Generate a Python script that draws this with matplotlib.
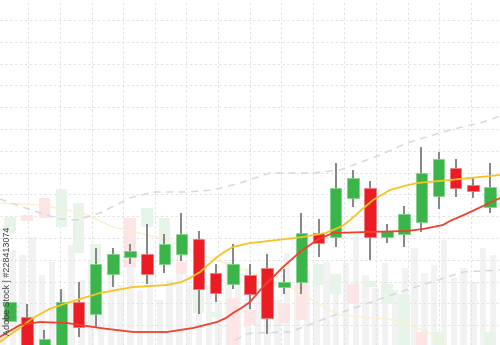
import numpy as np
import matplotlib
matplotlib.use("Agg")
import matplotlib.pyplot as plt

# main candles (price units, bottom of picture = 0)
opens  = [24, 28, -15, -15, 43, 31, 71, 88, 91, 81, 91, 106, 72, 61, 70, 77, 58, 63, 112, 108,
          147, 157, 108, 111, 123, 149, 177, 160, 138]
closes = [43, -15, 6, 43, 18, 81, 91, 94, 71, 101, 111, 56, 52, 81, 51, 27, 63, 112, 102, 157,
          167, 108, 114, 131, 172, 186, 157, 154, 158]
highs  = [43, 41, 15, 56, 63, 97, 97, 101, 121, 111, 132, 114, 81, 101, 81, 91, 76, 132, 126, 182,
          175, 164, 121, 139, 198, 193, 186, 167, 182]
lows   = [24, -20, -20, -20, 8, 18, 58, 81, 61, 72, 84, 31, 43, 56, 36, 11, 51, 51, 88, 98,
          138, 85, 102, 98, 113, 136, 148, 147, 132]

# moving averages (x in candle index units)
ma_yellow_x = [-0.6, 0.4, 1.34, 2.3, 3.33, 5.25, 7.18, 9.16, 10.0, 10.5, 11.09, 11.49, 12.08, 12.5,
               13.01, 14.0, 14.59, 17.09, 18.4, 18.84, 19.4, 19.84, 20.5, 21.18, 22.17, 23.0,
               23.75, 25.67, 28.6]
ma_yellow_y = [3, 15, 27, 36, 42, 52, 58, 60, 63, 67, 73, 79, 88, 93,
               98, 102, 103, 108, 112, 115, 119, 125, 135, 145, 155, 159,
               162, 165, 170]
ma_red_x = [-0.6, 0.58, 1.75, 3.33, 5.25, 7.18, 9.16, 10.68, 12.08, 12.6, 13.01, 13.5, 14.0,
            14.76, 15.35, 15.93, 16.92, 17.91, 18.84, 20.83, 23.16, 24.1, 25.26, 25.67, 26.6,
            27.6, 28.6]
ma_red_y = [8, 20, 23, 22, 17, 13, 13, 17, 23, 27, 32, 37, 43,
            58, 68, 78, 93, 105, 112, 113, 114, 116, 120, 124, 131,
            139, 147]

# faded background candles
ghost_idx    = [0, 1, 2, 3, 4, 5, 7, 8, 9, 10, 11, 12, 13, 14, 16, 17, 18, 19, 20, 21, 22, 23, 24, 25, 28]
ghost_top    = [128, 130, 147, 156, 142, 101, 127, 137, 127, 83, 57, 33, 47, 35, 42, 62, 81, 71, 61, 64,
                61, 51, 13, 13, 13]
ghost_bottom = [112, 124, 127, 118, 92, 82, 78, 118, 82, 71, 32, 28, 0, 20, 22, 25, 60, 51, 41, 58,
                41, 0, 0, 0, 0]
ghost_up     = [1, 0, 0, 1, 1, 1, 0, 1, 1, 0, 1, 1, 0, 0, 0, 0, 1, 1, 0, 1, 1, 1, 0, 1, 1]

# faded volume bars
volume = [75, 95, 90, 108, 70, 83, 55, 100, 65, 85, 45, 75, 60, 90, 55, 80, 45, 65, 95, 70,
          75, 60, 45, 83, 65, 77, 50, 70, 45, 92, 60, 75, 70, 83, 55, 82, 112, 70, 57, 82,
          55, 77, 97, 72, 80, 105, 67, 77, 63, 97, 90]

# faded trend lines
ghost_yellow_x = [-0.6, 1.75, 4.26, 6.01, 8.75, 11.67, 14.0, 15.93, 16.74, 17.91, 19.25, 20.6, 22.58, 24.5, 25.38]
ghost_yellow_y = [142, 140, 132, 118, 107, 87, 73, 60, 55, 42, 30, 28, 25, 12, 0]
band_up_x = [-0.6, 1.58, 2.92, 3.91, 5.25, 7.0, 8.34, 10.33, 11.84, 13.42, 15.17, 17.68, 19.25,
             21.59, 23.16, 25.67, 27.6, 28.6]
band_up_y = [146, 133, 126, 125, 132, 147, 153, 153, 155, 162, 172, 172, 175, 190, 202, 215, 223, 229]
band_lo_x = [13.13, 14.0, 16.34, 19.25, 22.75, 26.43, 28.6]
band_lo_y = [5, 12, 13, 32, 53, 73, 75]

GREEN = "#3bb54a"
RED = "#ec1c24"

fig = plt.figure(figsize=(5, 3.45), dpi=100)
ax = fig.add_axes([0, 0, 1, 1])
step = 17.14  # pixels per candle
ax.set_xlim(-10 / step, 490 / step)
ax.set_ylim(0, 345)
ax.axis("off")

# volume bars
vol_x = (3 + 9.8 * np.arange(len(volume)) - 10) / step
ax.bar(vol_x, volume, width=0.38, color="#f2f2f2", zorder=1)

# dashed grid
for gx in (28.3 + 31.6 * np.arange(16) - 10) / step:
    ax.axvline(gx, color="#e2e2e2", lw=0.7, dashes=(2.5, 2.5), zorder=2)
for gy in 345 - (20 + 21.8 * np.arange(15)):
    ax.axhline(gy, color="#e2e2e2", lw=0.7, dashes=(2.5, 2.5), zorder=2)

# ghost candles
g_col = ["#e7f5e8" if u else "#fce5e5" for u in ghost_up]
ax.bar(ghost_idx, np.array(ghost_top) - np.array(ghost_bottom), bottom=ghost_bottom,
       width=0.67, color=g_col, zorder=3)
ax.plot(ghost_yellow_x, ghost_yellow_y, color="#fbf0cc", lw=1, zorder=3)
ax.plot(band_up_x, band_up_y, color="#d6d6d6", lw=1, dashes=(5, 4), zorder=3)
ax.plot(band_lo_x, band_lo_y, color="#d6d6d6", lw=1, dashes=(5, 4), zorder=3)

# main candles
idx = np.arange(len(opens))
o = np.array(opens)
c = np.array(closes)
up = c >= o
ax.vlines(idx, lows, highs, color="#858585", lw=1.4, zorder=4)
ax.bar(idx[up], (c - o)[up], bottom=o[up], width=0.67, color=GREEN,
       edgecolor="#7fd488", lw=0.6, zorder=5)
ax.bar(idx[~up], (c - o)[~up], bottom=o[~up], width=0.67, color=RED,
       edgecolor="#f27a7e", lw=0.6, zorder=5)

# moving averages
ax.plot(ma_yellow_x, ma_yellow_y, color="#f6c323", lw=1.3, zorder=6)
ax.plot(ma_red_x, ma_red_y, color="#f0412b", lw=1.3, zorder=6)

ax.text(-0.12, 10, "Adobe Stock | #228413074", rotation=90, ha="center", va="bottom",
        fontsize=6.5, color="#3c3c3c", family="Liberation Sans", zorder=7)

fig.savefig("out.png", dpi=100)
